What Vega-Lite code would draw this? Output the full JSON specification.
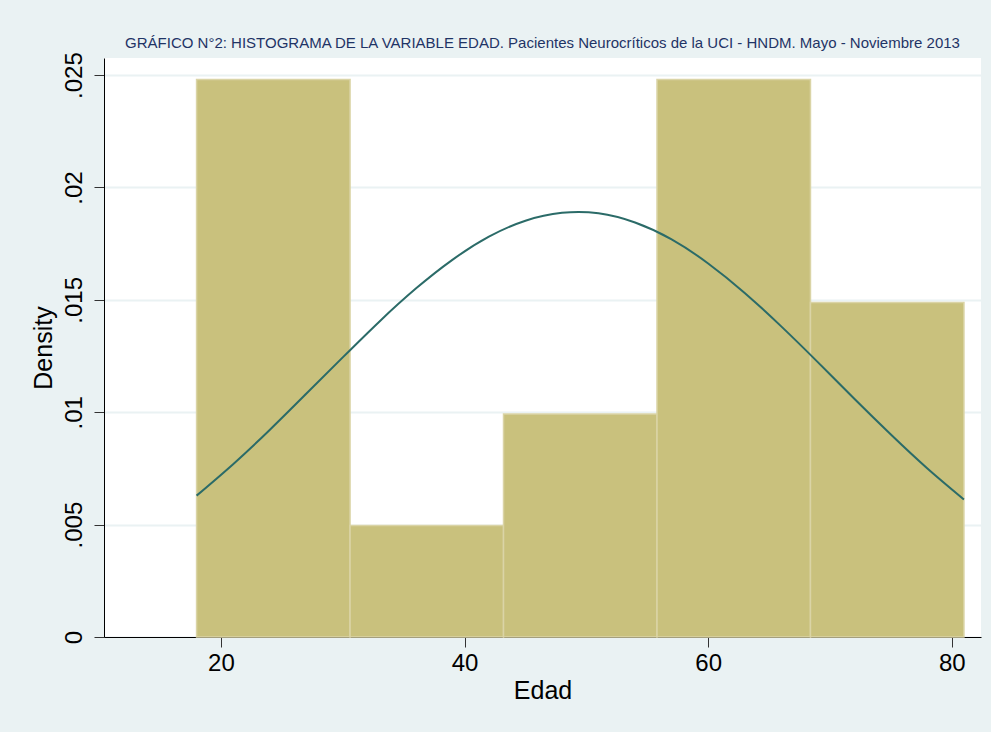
{
  "$schema": "https://vega.github.io/schema/vega-lite/v6.json",
  "width": 877,
  "height": 579,
  "autosize": {"type": "none"},
  "padding": {"left": 104, "top": 58, "right": 10, "bottom": 95},
  "background": "#EAF2F3",
  "view": {"fill": "#ffffff", "stroke": null},
  "title": {
    "text": "GRÁFICO N°2: HISTOGRAMA DE LA VARIABLE EDAD. Pacientes Neurocríticos de la UCI - HNDM. Mayo - Noviembre 2013",
    "font": "Liberation Sans",
    "fontSize": 15,
    "fontWeight": "normal",
    "color": "#1F3466",
    "anchor": "middle",
    "offset": 1
  },
  "datasets": {
    "bins": [
      {"bin_start": 18.0, "bin_end": 30.6, "density": 0.0248},
      {"bin_start": 30.6, "bin_end": 43.2, "density": 0.00496},
      {"bin_start": 43.2, "bin_end": 55.8, "density": 0.00992},
      {"bin_start": 55.8, "bin_end": 68.4, "density": 0.0248},
      {"bin_start": 68.4, "bin_end": 81.0, "density": 0.01488}
    ],
    "curve": [
      {"edad": 18, "dens": 0.00629},
      {"edad": 21, "dens": 0.00769},
      {"edad": 24, "dens": 0.00921},
      {"edad": 27, "dens": 0.01082},
      {"edad": 30, "dens": 0.01244},
      {"edad": 33, "dens": 0.01403},
      {"edad": 36, "dens": 0.0155},
      {"edad": 39, "dens": 0.01678},
      {"edad": 42, "dens": 0.01781},
      {"edad": 45, "dens": 0.01852},
      {"edad": 48, "dens": 0.01887},
      {"edad": 51, "dens": 0.01885},
      {"edad": 54, "dens": 0.01844},
      {"edad": 57, "dens": 0.01769},
      {"edad": 60, "dens": 0.01662},
      {"edad": 63, "dens": 0.01531},
      {"edad": 66, "dens": 0.01382},
      {"edad": 69, "dens": 0.01223},
      {"edad": 72, "dens": 0.0106},
      {"edad": 75, "dens": 0.00901},
      {"edad": 78, "dens": 0.0075},
      {"edad": 81, "dens": 0.00612}
    ]
  },
  "layer": [
    {
      "data": {"name": "bins"},
      "mark": {"type": "rect", "fill": "#C9C17D", "stroke": "#DAD4A6", "strokeWidth": 1.5},
      "encoding": {
        "x": {
          "field": "bin_start", "type": "quantitative",
          "scale": {"domain": [10.4, 82.4], "nice": false, "zero": false},
          "axis": {
            "values": [20, 40, 60, 80],
            "title": "Edad",
            "titleFont": "Liberation Sans",
            "titleFontSize": 25,
            "titleFontWeight": "normal",
            "titleColor": "#000000",
            "titlePadding": 3,
            "labelFont": "Liberation Sans",
            "labelFontSize": 24,
            "labelColor": "#000000",
            "labelPadding": 4,
            "tickSize": 10,
            "tickColor": "#333333",
            "domainColor": "#000000",
            "grid": false
          }
        },
        "x2": {"field": "bin_end"},
        "y": {
          "field": "density", "type": "quantitative",
          "scale": {"domain": [0, 0.02576], "nice": false},
          "axis": {
            "values": [0, 0.005, 0.01, 0.015, 0.02, 0.025],
            "labelExpr": "datum.value == 0 ? '0' : replace(format(datum.value, '.3~f'), '0.', '.')",
            "title": "Density",
            "titleFont": "Liberation Sans",
            "titleFontSize": 25,
            "titleFontWeight": "normal",
            "titleColor": "#000000",
            "titlePadding": 6,
            "labelFont": "Liberation Sans",
            "labelFontSize": 24,
            "labelColor": "#000000",
            "labelAngle": -90,
            "labelAlign": "center",
            "labelBaseline": "bottom",
            "labelPadding": 8,
            "tickSize": 10,
            "tickColor": "#333333",
            "domainColor": "#000000",
            "grid": true,
            "gridColor": "#EAF2F3",
            "gridWidth": 2
          }
        },
        "y2": {"datum": 0}
      }
    },
    {
      "data": {"name": "curve"},
      "mark": {"type": "line", "color": "#2B6B68", "strokeWidth": 2, "interpolate": "natural"},
      "encoding": {
        "x": {"field": "edad", "type": "quantitative"},
        "y": {"field": "dens", "type": "quantitative"}
      }
    }
  ]
}
